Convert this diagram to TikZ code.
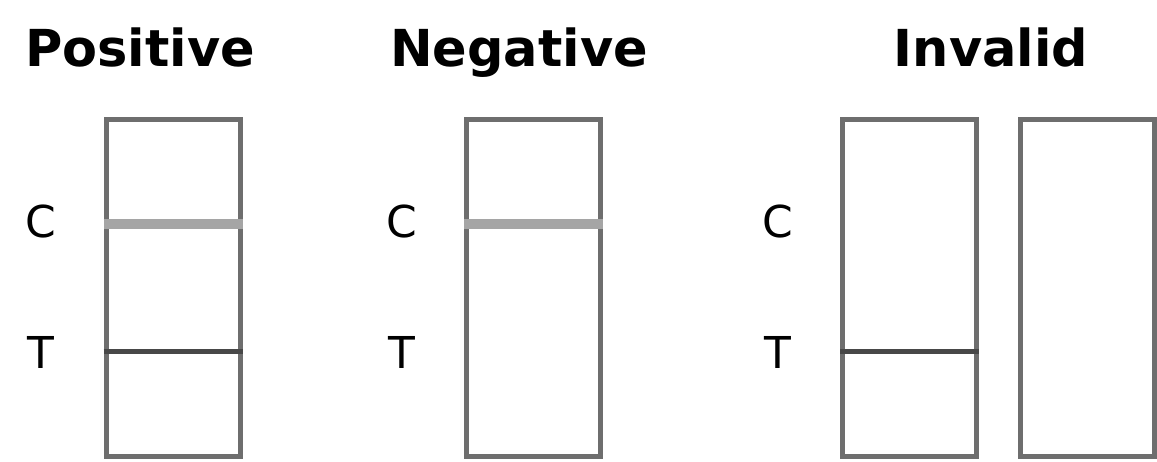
\documentclass[tikz,border=0pt]{standalone}
\usepackage{fontspec}
\setsansfont{DejaVu Sans}
\usetikzlibrary{positioning}
\definecolor{stripgray}{HTML}{6E6E6E}
\definecolor{cgray}{HTML}{A5A5A5}
\definecolor{tgray}{HTML}{484848}

\begin{document}
\begin{tikzpicture}[font=\sffamily, title/.style={font=\sffamily\bfseries\fontsize{29}{32}\selectfont, anchor=base}, lab/.style={font=\sffamily\fontsize{25}{28}\selectfont}, strip/.style={draw=stripgray, line width=0.1cm, minimum width=2.68cm, minimum height=6.74cm, inner sep=0pt}, cband/.style={draw=cgray, line width=0.2cm}, tband/.style={draw=tgray, line width=0.1cm}]
\useasboundingbox (0,0) rectangle (23.14,9.24);
\coordinate (cline) at (0,4.76);
\coordinate (tline) at (0,2.2);
\node[title] (tpos) at (2.8,7.9) {Positive};
\node[title] (tneg) at (10.38,7.9) {Negative};
\node[title] (tinv) at (19.82,7.9) {Invalid};
\foreach \s/\x in {pos/3.46,neg/10.67,inv/18.19}{\node[strip] (\s) at (\x,3.47) {};\node[lab] (c\s) at (\x-2.64,4.8) {C};\node[lab] (t\s) at (\x-2.64,2.2) {T};}
\node[strip] (inv2) at (21.74,3.47) {};
\draw[cband] (pos.west |- cline) -- (pos.east |- cline);
\draw[tband] (pos.west |- tline) -- (pos.east |- tline);
\draw[cband] (neg.west |- cline) -- (neg.east |- cline);
\draw[tband] (inv.west |- tline) -- (inv.east |- tline);
\end{tikzpicture}
\end{document}
